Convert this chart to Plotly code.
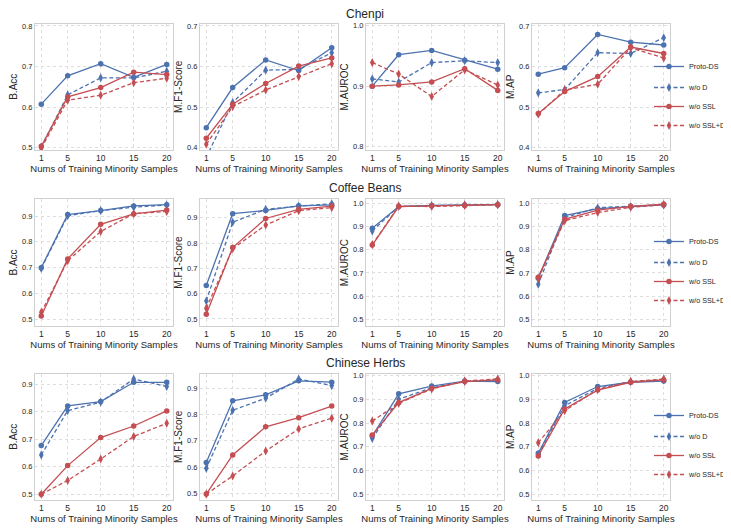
import plotly.graph_objects as go

# ---------------- data ----------------
x_samples = [1, 5, 10, 15, 20]
series_names = ["Proto-DS", "w/o D", "w/o SSL", "w/o SSL+D"]
metric_names = ["B.Acc", "M.F1-Score", "M.AUROC", "M.AP"]
dataset_names = ["Chenpi", "Coffee Beans", "Chinese Herbs"]
x_title = "Nums of Training Minority Samples"

# each list: [Proto-DS, w/o D, w/o SSL, w/o SSL+D]
chenpi_bacc = [[0.607, 0.677, 0.707, 0.673, 0.705],
               [0.502, 0.630, 0.672, 0.672, 0.688],
               [0.503, 0.625, 0.648, 0.686, 0.680],
               [0.498, 0.617, 0.629, 0.660, 0.671]]
chenpi_f1 = [[0.449, 0.548, 0.616, 0.590, 0.646],
             [0.376, 0.511, 0.591, 0.593, 0.634],
             [0.423, 0.507, 0.558, 0.601, 0.621],
             [0.408, 0.501, 0.542, 0.575, 0.607]]
chenpi_auroc = [[0.900, 0.952, 0.959, 0.943, 0.928],
                [0.912, 0.907, 0.939, 0.942, 0.939],
                [0.900, 0.902, 0.907, 0.929, 0.893],
                [0.939, 0.920, 0.883, 0.927, 0.902]]
chenpi_ap = [[0.581, 0.597, 0.679, 0.660, 0.653],
             [0.535, 0.543, 0.634, 0.632, 0.671],
             [0.484, 0.538, 0.575, 0.648, 0.632],
             [0.482, 0.542, 0.556, 0.646, 0.621]]

coffee_bacc = [[0.700, 0.906, 0.921, 0.939, 0.944],
               [0.697, 0.901, 0.921, 0.934, 0.943],
               [0.513, 0.734, 0.868, 0.908, 0.923],
               [0.527, 0.727, 0.840, 0.909, 0.918]]
coffee_f1 = [[0.632, 0.916, 0.929, 0.947, 0.951],
             [0.571, 0.882, 0.933, 0.946, 0.955],
             [0.518, 0.782, 0.897, 0.933, 0.946],
             [0.542, 0.778, 0.871, 0.928, 0.940]]
coffee_auroc = [[0.892, 0.986, 0.991, 0.993, 0.994],
                [0.881, 0.986, 0.990, 0.993, 0.995],
                [0.820, 0.986, 0.989, 0.991, 0.994],
                [0.822, 0.988, 0.986, 0.991, 0.994]]
coffee_ap = [[0.677, 0.947, 0.977, 0.986, 0.993],
             [0.651, 0.938, 0.981, 0.986, 0.994],
             [0.681, 0.931, 0.971, 0.987, 0.996],
             [0.677, 0.925, 0.960, 0.983, 0.993]]

herbs_bacc = [[0.677, 0.821, 0.837, 0.907, 0.907],
              [0.643, 0.804, 0.835, 0.919, 0.892],
              [0.500, 0.604, 0.706, 0.748, 0.803],
              [0.500, 0.550, 0.628, 0.710, 0.758]]
herbs_f1 = [[0.617, 0.852, 0.875, 0.928, 0.923],
            [0.595, 0.816, 0.862, 0.935, 0.910],
            [0.497, 0.646, 0.753, 0.788, 0.832],
            [0.497, 0.566, 0.661, 0.745, 0.786]]
herbs_auroc = [[0.745, 0.923, 0.956, 0.977, 0.975],
               [0.735, 0.900, 0.949, 0.975, 0.982],
               [0.749, 0.886, 0.946, 0.975, 0.982],
               [0.808, 0.883, 0.944, 0.977, 0.986]]
herbs_ap = [[0.672, 0.887, 0.954, 0.972, 0.977],
            [0.668, 0.873, 0.946, 0.975, 0.982],
            [0.661, 0.859, 0.939, 0.972, 0.982],
            [0.717, 0.852, 0.942, 0.975, 0.986]]

grid_data = [[chenpi_bacc, chenpi_f1, chenpi_auroc, chenpi_ap],
             [coffee_bacc, coffee_f1, coffee_auroc, coffee_ap],
             [herbs_bacc, herbs_f1, herbs_auroc, herbs_ap]]

# ---------------- styling / layout ----------------
W, H = 731, 529
OX, OY = 8, 8  # page body margin offset of the rendered figure
FONT = "Liberation Sans, Arial, Helvetica, sans-serif"
TXT = "#262626"
BLUE = "#4c72b0"
RED = "#c44e52"
GRID = "#dedede"
series_style = [
    dict(color=BLUE, dash="solid", symbol="circle", msize=5.5),
    dict(color=BLUE, dash="4px,2.5px", symbol="diamond-tall", msize=6.5),
    dict(color=RED, dash="solid", symbol="circle", msize=5.5),
    dict(color=RED, dash="4px,2.5px", symbol="diamond-tall", msize=6.5),
]
col_px = [(35, 173), (200, 338), (366, 504), (532, 670)]
row_px = [(23.5, 150), (199, 326), (373.5, 500)]
y_ranges = [[(0.494, 0.806), (0.394, 0.706), (0.7945, 1.0036), (0.394, 0.706)],
            [(0.474, 0.966), (0.472, 0.974), (0.471, 1.0185), (0.471, 1.0185)],
            [(0.479, 0.939), (0.4745, 0.956), (0.475, 1.009), (0.475, 1.009)]]
title_y_px = [14, 188, 362.5]
legend_top_px = [52, 227, 401]
legend_left_px = 649
legend_ids = ["legend", "legend2", "legend3"]


def xp(px):
    return (px - OX) / W


def yp(py):
    return 1 - (py - OY) / H


fig = go.Figure()
layout = dict(
    width=W, height=H,
    margin=dict(l=0, r=0, t=0, b=0, autoexpand=False),
    paper_bgcolor="white", plot_bgcolor="white",
    font=dict(family=FONT, color=TXT),
    annotations=[],
)

for r in range(3):
    for c in range(4):
        k = r * 4 + c + 1
        sfx = "" if k == 1 else str(k)
        xa = "x" + sfx
        ya = "y" + sfx
        vals = grid_data[r][c]
        for s in range(4):
            st = series_style[s]
            fig.add_trace(go.Scatter(
                x=x_samples, y=vals[s], xaxis=xa, yaxis=ya,
                mode="lines+markers", name=series_names[s],
                line=dict(color=st["color"], width=1.3, dash=st["dash"]),
                marker=dict(symbol=st["symbol"], size=st["msize"], color=st["color"],
                            line=dict(width=0)),
                legend=legend_ids[r],
                legendgroup=f"r{r}g{0 if s == 0 else 1}",
                showlegend=(c == 0),
            ))
        x0, x1 = col_px[c]
        y0, y1 = row_px[r]
        layout["xaxis" + sfx] = dict(
            domain=[xp(x0), xp(x1)], anchor=ya,
            range=[0.05, 20.95], tickvals=x_samples,
            tickfont=dict(size=8.5, color=TXT),
            showline=True, mirror=True, linecolor="#d0d0d0", linewidth=1,
            showgrid=True, gridcolor=GRID, gridwidth=0.8, griddash="dot",
            zeroline=False, ticks="", ticklen=0,
            title=dict(text=x_title, font=dict(size=9.5, color=TXT), standoff=2),
        )
        lo, hi = y_ranges[r][c]
        layout["yaxis" + sfx] = dict(
            domain=[yp(y1), yp(y0)], anchor=xa,
            range=[lo, hi], dtick=0.1, tick0=0, tickformat=".1f",
            tickfont=dict(size=7.5, color=TXT),
            showline=True, mirror=True, linecolor="#d0d0d0", linewidth=1,
            showgrid=True, gridcolor=GRID, gridwidth=0.8, griddash="dot",
            zeroline=False, ticks="", ticklen=0,
            title=dict(text=metric_names[c], font=dict(size=10, color=TXT), standoff=2),
        )
    layout["annotations"].append(dict(
        text=dataset_names[r], x=xp(365), y=yp(title_y_px[r]),
        xref="paper", yref="paper", xanchor="center", yanchor="middle",
        showarrow=False, font=dict(size=12, color=TXT, family=FONT),
    ))
    layout[legend_ids[r]] = dict(
        x=xp(legend_left_px), xanchor="left", y=yp(legend_top_px[r]), yanchor="top",
        font=dict(size=7.2, color=TXT, family=FONT),
        bgcolor="rgba(0,0,0,0)", borderwidth=0,
        traceorder="grouped", tracegroupgap=2,
    )

fig.update_layout(**layout)
fig.write_html("out.html")
